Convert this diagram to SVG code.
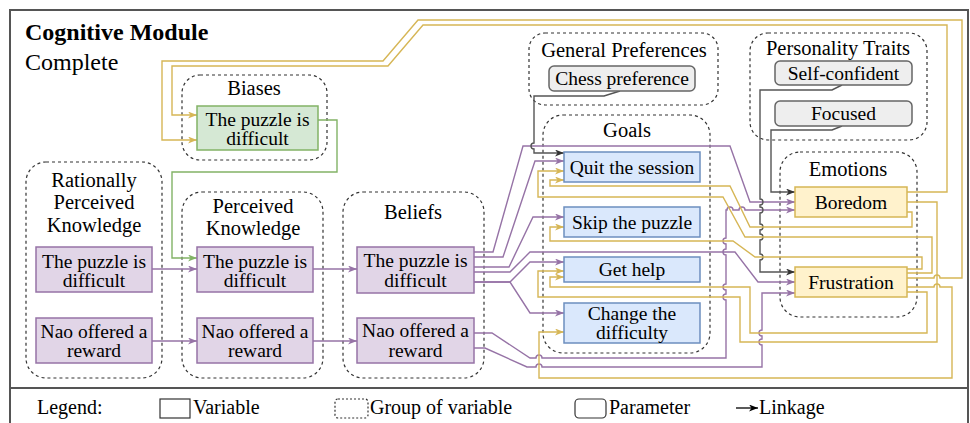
<svg xmlns="http://www.w3.org/2000/svg" width="970" height="423" viewBox="0 0 970 423">
  <defs>
    <style>
      text { font-family: "Liberation Serif", Tinos, "Noto Serif", "DejaVu Serif", FreeSerif, "Nimbus Roman", "Times New Roman", Times, serif; fill: #000; }
      .title { font-size: 24px; }
      .gt { font-size: 20.5px; text-anchor: middle; }
      .nt { font-size: 19.5px; text-anchor: middle; }
      .lt { font-size: 20px; }
      .grp { fill: none; stroke: #333; stroke-width: 1.2; stroke-dasharray: 3 3; }
      .var-p { fill: #e1d5e7; stroke: #9673a6; stroke-width: 1.5; }
      .var-g { fill: #d5e8d4; stroke: #82b366; stroke-width: 1.5; }
      .var-b { fill: #dae8fc; stroke: #6c8ebf; stroke-width: 1.5; }
      .var-y { fill: #fff2cc; stroke: #d6b656; stroke-width: 1.5; }
      .param { fill: #eeeeee; stroke: #666; stroke-width: 1.5; }
      .c { fill: none; stroke-width: 1.4; }
      .cp { stroke: #9673a6; marker-end: url(#ap); }
      .cy { stroke: #d6b656; marker-end: url(#ay); }
      .cg { stroke: #82b366; marker-end: url(#ag); }
      .cd { stroke: #555; marker-end: url(#ad); }
    </style>
    <marker id="ap" viewBox="0 0 9 7" refX="9" refY="3.5" markerWidth="9" markerHeight="7" markerUnits="userSpaceOnUse" orient="auto" preserveAspectRatio="none"><path d="M0,0 L9,3.5 L0,7 L2.5,3.5 z" fill="#9673a6"/></marker>
    <marker id="ay" viewBox="0 0 9 7" refX="9" refY="3.5" markerWidth="9" markerHeight="7" markerUnits="userSpaceOnUse" orient="auto" preserveAspectRatio="none"><path d="M0,0 L9,3.5 L0,7 L2.5,3.5 z" fill="#d6b656"/></marker>
    <marker id="ag" viewBox="0 0 9 7" refX="9" refY="3.5" markerWidth="9" markerHeight="7" markerUnits="userSpaceOnUse" orient="auto" preserveAspectRatio="none"><path d="M0,0 L9,3.5 L0,7 L2.5,3.5 z" fill="#82b366"/></marker>
    <marker id="ad" viewBox="0 0 9 7" refX="9" refY="3.5" markerWidth="9" markerHeight="7" markerUnits="userSpaceOnUse" orient="auto" preserveAspectRatio="none"><path d="M0,0 L9,3.5 L0,7 L2.5,3.5 z" fill="#333"/></marker>
    <marker id="ak" viewBox="0 0 9 7" refX="9" refY="3.5" markerWidth="9" markerHeight="7" markerUnits="userSpaceOnUse" orient="auto" preserveAspectRatio="none"><path d="M0,0 L9,3.5 L0,7 L2.5,3.5 z" fill="#000"/></marker>
  </defs>

  <rect width="970" height="423" fill="#fff"/>

  <!-- frame -->
  <g id="frame">
    <rect x="10" y="10" width="958" height="378" fill="none" stroke="#555" stroke-width="2"/>
    <rect x="10" y="388" width="958" height="40" fill="none" stroke="#555" stroke-width="2"/>
    <text class="title" x="25" y="40" font-weight="bold">Cognitive Module</text>
    <text class="title" x="25" y="70">Complete</text>
  </g>

  <!-- groups of variables -->
  <g id="grp-biases">
    <rect class="grp" x="182" y="75" width="145" height="85" rx="18"/>
    <text class="gt" x="254" y="95">Biases</text>
  </g>
  <g id="grp-rpk">
    <rect class="grp" x="26" y="162" width="136" height="216" rx="20"/>
    <text class="gt" x="94" y="186.5">Rationally</text>
    <text class="gt" x="94" y="209">Perceived</text>
    <text class="gt" x="94" y="232">Knowledge</text>
  </g>
  <g id="grp-pk">
    <rect class="grp" x="182" y="192" width="141" height="186" rx="20"/>
    <text class="gt" x="253" y="213">Perceived</text>
    <text class="gt" x="253" y="235">Knowledge</text>
  </g>
  <g id="grp-beliefs">
    <rect class="grp" x="343" y="192" width="141" height="186" rx="20"/>
    <text class="gt" x="413" y="219">Beliefs</text>
  </g>
  <g id="grp-prefs">
    <rect class="grp" x="529" y="33" width="189" height="72" rx="16"/>
    <text class="gt" x="624" y="57">General Preferences</text>
  </g>
  <g id="grp-goals">
    <rect class="grp" x="543" y="115" width="167" height="238" rx="20"/>
    <text class="gt" x="627" y="137">Goals</text>
  </g>
  <g id="grp-traits">
    <rect class="grp" x="750" y="33" width="177" height="107" rx="18"/>
    <text class="gt" x="838" y="55">Personality Traits</text>
  </g>
  <g id="grp-emotions">
    <rect class="grp" x="780" y="152" width="137" height="165" rx="20"/>
    <text class="gt" x="848" y="176">Emotions</text>
  </g>

  <!-- connectors -->
  <g id="connectors">
    <!-- knowledge chain -->
    <path class="c cp" d="M152,269 H197"/>
    <path class="c cp" d="M152,341 H197"/>
    <path class="c cp" d="M313,269 H357"/>
    <path class="c cp" d="M313,341 H357"/>
    <path class="c cg" d="M318,120 H337 V172 H172 V258 H197"/>

    <!-- beliefs to goals and emotions -->
    <path class="c cp" d="M474,252 H493 L523,146 H730 L750,202 H795"/>
    <path class="c cp" d="M474,257 H503 L535,161 H564"/>
    <path class="c cp" d="M474,267 H509 L533,217 H564"/>
    <path class="c cp" d="M474,272 H510 L530,252 H735 L758,282 H795"/>
    <path class="c cp" d="M474,282 H510 L530,262 H564"/>
    <path class="c cp" d="M474,282 H510 L530,313 H564"/>
    <path class="c cp" d="M474,333 H492 L530,358 H536 A3,3 0 0 1 542,358 H726 V300 A3,3 0 0 1 726,294 V290 A3,3 0 0 1 726,284 V255 A3,3 0 0 1 726,249 V244 A3,3 0 0 1 726,238 V210 H727 A3,3 0 0 1 733,210 H739 A3,3 0 0 1 745,210 H795"/>
    <path class="c cp" d="M474,348 H485 L527,367 H536 A3,3 0 0 1 542,367 H762 V345 A3,3 0 0 1 762,339 V336 A3,3 0 0 1 762,330 V293 H795"/>

    <!-- parameters -->
    <path class="c cd" d="M620,91 L604,96 H534 V143 A3,3 0 0 0 534,149 V153 H564"/>
    <path class="c cd" d="M842,85 L832,90 H760 V199 A3,3 0 0 1 760,205 V207 A3,3 0 0 1 760,213 V224 A3,3 0 0 1 760,230 V234 A3,3 0 0 1 760,240 V254 A3,3 0 0 1 760,260 V272 H795"/>
    <path class="c cd" d="M842,126 L832,130 H771 V192 H795"/>

    <!-- emotions feedback -->
    <path class="c cy" d="M907,192 H947 V25 H423 L388,66 H172 V115 H197"/>
    <path class="c cy" d="M907,278 H934 A3,3 0 0 1 940,278 H962 V20 H418 L383,61 H162 V140 H197"/>
    <path class="c cy" d="M907,212 H912 V227 H750 L730,186 H550 V180 H564"/>
    <path class="c cy" d="M907,273 H932 V237 H745 L723,197 H538 V171 H564"/>
    <path class="c cy" d="M907,269 H922 V257 H755 L733,241 H550 V227 H564"/>
    <path class="c cy" d="M907,202 H937 V342 H740 V297 H538 V271 H564"/>
    <path class="c cy" d="M907,292 H927 V333 H750 V287 H550 V277 H564"/>
    <path class="c cy" d="M907,287 H934 A3,3 0 0 1 940,287 H952 V378 H539 V332 H564"/>
  </g>

  <!-- variables -->
  <g id="bias-difficult">
    <rect class="var-g" x="197" y="106" width="121" height="44"/>
    <text class="nt" x="257.5" y="126">The puzzle is</text>
    <text class="nt" x="257.5" y="145">difficult</text>
  </g>
  <g id="rpk-difficult">
    <rect class="var-p" x="36" y="247" width="116" height="45"/>
    <text class="nt" x="94" y="268">The puzzle is</text>
    <text class="nt" x="94" y="287">difficult</text>
  </g>
  <g id="rpk-reward">
    <rect class="var-p" x="36" y="318" width="116" height="45"/>
    <text class="nt" x="94" y="338">Nao offered a</text>
    <text class="nt" x="94" y="357">reward</text>
  </g>
  <g id="pk-difficult">
    <rect class="var-p" x="197" y="247" width="116" height="45"/>
    <text class="nt" x="255" y="268">The puzzle is</text>
    <text class="nt" x="255" y="287">difficult</text>
  </g>
  <g id="pk-reward">
    <rect class="var-p" x="197" y="318" width="116" height="45"/>
    <text class="nt" x="255" y="338">Nao offered a</text>
    <text class="nt" x="255" y="357">reward</text>
  </g>
  <g id="belief-difficult">
    <rect class="var-p" x="357" y="247" width="117" height="46"/>
    <text class="nt" x="415.5" y="267">The puzzle is</text>
    <text class="nt" x="415.5" y="287">difficult</text>
  </g>
  <g id="belief-reward">
    <rect class="var-p" x="357" y="318" width="117" height="45"/>
    <text class="nt" x="415.5" y="337">Nao offered a</text>
    <text class="nt" x="415.5" y="357">reward</text>
  </g>
  <g id="goal-quit">
    <rect class="var-b" x="564" y="152" width="136" height="30"/>
    <text class="nt" x="632" y="173.5">Quit the session</text>
  </g>
  <g id="goal-skip">
    <rect class="var-b" x="564" y="207" width="136" height="30"/>
    <text class="nt" x="632" y="228.5">Skip the puzzle</text>
  </g>
  <g id="goal-help">
    <rect class="var-b" x="564" y="257" width="136" height="25"/>
    <text class="nt" x="632" y="276">Get help</text>
  </g>
  <g id="goal-difficulty">
    <rect class="var-b" x="564" y="303" width="136" height="40"/>
    <text class="nt" x="632" y="320">Change the</text>
    <text class="nt" x="632" y="339">difficulty</text>
  </g>
  <g id="emotion-boredom">
    <rect class="var-y" x="795" y="187" width="112" height="30"/>
    <text class="nt" x="851" y="208.5">Boredom</text>
  </g>
  <g id="emotion-frustration">
    <rect class="var-y" x="795" y="267" width="112" height="30"/>
    <text class="nt" x="851" y="288.5">Frustration</text>
  </g>

  <!-- parameters -->
  <g id="pref-chess">
    <rect class="param" x="549" y="66" width="146" height="25" rx="5"/>
    <text class="nt" x="622" y="85">Chess preference</text>
  </g>
  <g id="trait-confident">
    <rect class="param" x="775" y="61" width="137" height="24" rx="5"/>
    <text class="nt" x="843.5" y="80">Self-confident</text>
  </g>
  <g id="trait-focused">
    <rect class="param" x="775" y="101" width="137" height="25" rx="5"/>
    <text class="nt" x="843.5" y="120">Focused</text>
  </g>

  <!-- legend -->
  <g id="legend">
    <text class="lt" x="37" y="414">Legend:</text>
    <rect x="160" y="399" width="30" height="19" fill="#fff" stroke="#333" stroke-width="1.2"/>
    <text class="lt" x="193" y="414">Variable</text>
    <rect x="335" y="399" width="33" height="19" rx="3" fill="none" stroke="#333" stroke-width="1.2" stroke-dasharray="2 2"/>
    <text class="lt" x="370" y="414">Group of variable</text>
    <rect x="575" y="399" width="31" height="19" rx="4" fill="#fff" stroke="#333" stroke-width="1.2"/>
    <text class="lt" x="609" y="414">Parameter</text>
    <path d="M736,408 H758" stroke="#000" stroke-width="1.3" fill="none" marker-end="url(#ak)"/>
    <text class="lt" x="759" y="414">Linkage</text>
  </g>
</svg>
